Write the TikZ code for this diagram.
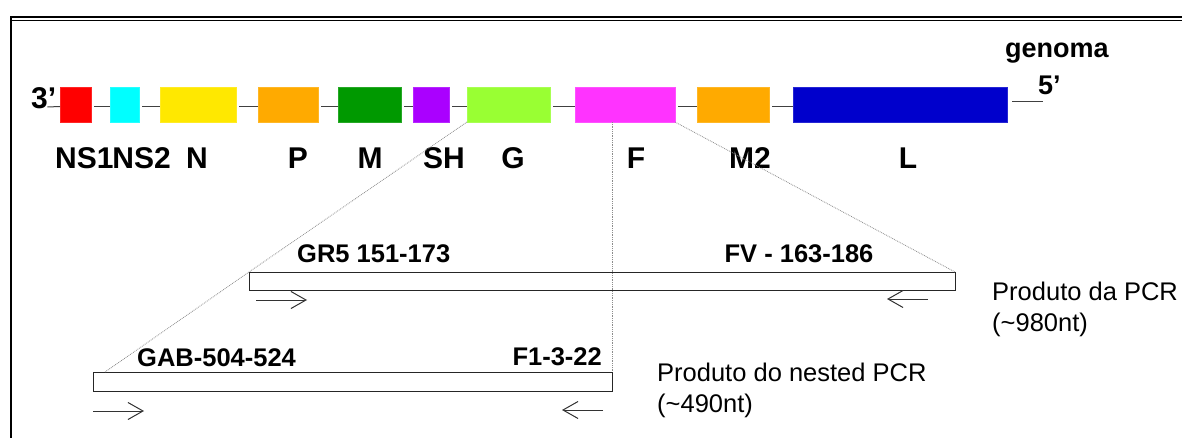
\documentclass[tikz,border=0pt]{standalone}
\usepackage{fontspec}
\setmainfont{Liberation Sans}
\usetikzlibrary{arrows.meta,calc}
\definecolor{gred}{HTML}{FF0000}
\definecolor{gcyan}{HTML}{00FFFF}
\definecolor{gyellow}{HTML}{FFE800}
\definecolor{gorange}{HTML}{FFAA00}
\definecolor{ggreen}{HTML}{009900}
\definecolor{gpurple}{HTML}{AA00FF}
\definecolor{glime}{HTML}{99FF33}
\definecolor{gmag}{HTML}{FF33FF}
\definecolor{gblue}{HTML}{0000CC}
\begin{document}
\begin{tikzpicture}[x=1pt,y=-1pt,
  gene/.style={draw=#1!85!white, fill=#1, line width=0.6pt, minimum height=35pt,
    inner sep=0pt, outer sep=0pt, anchor=west},
  glabel/.style={font=\fontsize{30}{30}\selectfont\bfseries, anchor=base, inner sep=0pt},
  endlbl/.style={font=\fontsize{27}{27}\selectfont\bfseries, anchor=base west, inner sep=0pt},
  plabel/.style={font=\fontsize{25.5}{25.5}\selectfont\bfseries, anchor=base, inner sep=0pt},
  ptext/.style={font=\fontsize{25.5}{25.5}\selectfont, anchor=base west, inner sep=0pt},
  conn/.style={line width=1pt, draw=black!75},
  prod/.style={draw=black!85, line width=1pt, inner sep=0pt, outer sep=0pt, anchor=north west},
  proj/.style={draw=black!45, line width=0.8pt, densely dotted},
  primer/.style={draw=black!80, line width=1pt, -{Straight Barb[length=15pt,width=17pt,line width=1pt]}}
]
\useasboundingbox (0,0) rectangle (1182,438);
\fill[white] (0,0) rectangle (1182,438);
% frame
\draw[line width=2pt] (10.5,438) -- (10.5,17) -- (1182,17);
\draw[line width=1pt] (11.5,20.5) -- (1182,20.5);

% genome boxes
\node[gene=gred,    minimum width=31pt]  (ns1) at (60,104.5) {};
\node[gene=gcyan,   minimum width=29pt]  (ns2) at (110,104.5) {};
\node[gene=gyellow, minimum width=76pt]  (n)   at (160,104.5) {};
\node[gene=gorange, minimum width=60pt]  (p)   at (258,104.5) {};
\node[gene=ggreen,  minimum width=63pt]  (m)   at (338,104.5) {};
\node[gene=gpurple, minimum width=36pt]  (sh)  at (413,104.5) {};
\node[gene=glime,   minimum width=83pt]  (g)   at (467,104.5) {};
\node[gene=gmag,    minimum width=100pt] (f)   at (575,104.5) {};
\node[gene=gorange, minimum width=72pt]  (m2)  at (697,104.5) {};
\node[gene=gblue,   minimum width=214pt] (l)   at (793,104.5) {};

% connectors between genes
\foreach \a/\b in {ns1/ns2,ns2/n,n/p,p/m,m/sh,sh/g,g/f,f/m2,m2/l}
  \draw[conn] ([xshift=3pt,yshift=-2pt]\a.east) -- ([yshift=-2pt]\b.west);

% ends
\node[endlbl, font=\fontsize{30}{30}\selectfont\bfseries] (t3) at (31,109) {3’};
\node[endlbl] (t5) at (1038,95) {5’};
\node[endlbl] (gen) at (1005,58) {genoma};
\draw[conn] ([xshift=-9pt,yshift=2pt]t3.base east) -- ([yshift=-2pt]ns1.west);
\draw[conn] ([xshift=5pt,yshift=2.5pt]l.east) -- ([xshift=5pt,yshift=-7pt]t5.base west);

% gene labels
\node[glabel, anchor=base west] (lns1) at (55,169) {NS1};
\node[glabel, anchor=base east] (lns2) at (171,169) {NS2};
\node[glabel] (ln)  at (197,169) {N};
\node[glabel] (lp)  at (298,169) {P};
\node[glabel] (lm)  at (370,169) {M};
\node[glabel] (lsh) at (444,169) {SH};
\node[glabel] (lg)  at (513,169) {G};
\node[glabel] (lf)  at (636,169) {F};
\node[glabel] (lm2) at (750,169) {M2};
\node[glabel] (ll)  at (908,169) {L};

% PCR products
\node[prod, minimum width=706pt, minimum height=18pt] (pcr1) at (249,272) {};
\node[prod, minimum width=519pt, minimum height=19pt] (pcr2) at (93,372) {};

% projection lines
\coordinate (gabtip) at (105,372);
\draw[proj] (g.south west) -- (pcr1.north west) -- (gabtip);
\draw[proj] (pcr2.north east |- f.south) -- (pcr2.north east);
\draw[proj] (f.south east) -- (pcr1.north east);

% primer labels
\node[plabel, anchor=base west] (gr5) at (297,262) {GR5 151-173};
\node[plabel] (fv) at (799,262) {FV - 163-186};
\node[plabel, anchor=base west] (gab) at (137,366) {GAB-504-524};
\node[plabel, anchor=base east] (f13) at (602,365) {F1-3-22};

% primer arrows
\coordinate (a1s) at (256,300); \coordinate (a1e) at (307,300);
\coordinate (a2s) at (928,299); \coordinate (a2e) at (887,299);
\coordinate (a3s) at (93,411);  \coordinate (a3e) at (144,411);
\coordinate (a4s) at (603,410); \coordinate (a4e) at (562,410);
\draw[primer] (a1s) -- (a1e);
\draw[primer] (a2s) -- (a2e);
\draw[primer] (a3s) -- (a3e);
\draw[primer] (a4s) -- (a4e);

% product texts
\node[ptext] (prod1a) at (992,300) {Produto da PCR};
\node[ptext] (prod1b) at (992,331) {(\char"007E 980nt)};
\node[ptext] (prod2a) at (657,381) {Produto do nested PCR};
\node[ptext] (prod2b) at (657,412) {(\char"007E 490nt)};
\end{tikzpicture}
\end{document}
